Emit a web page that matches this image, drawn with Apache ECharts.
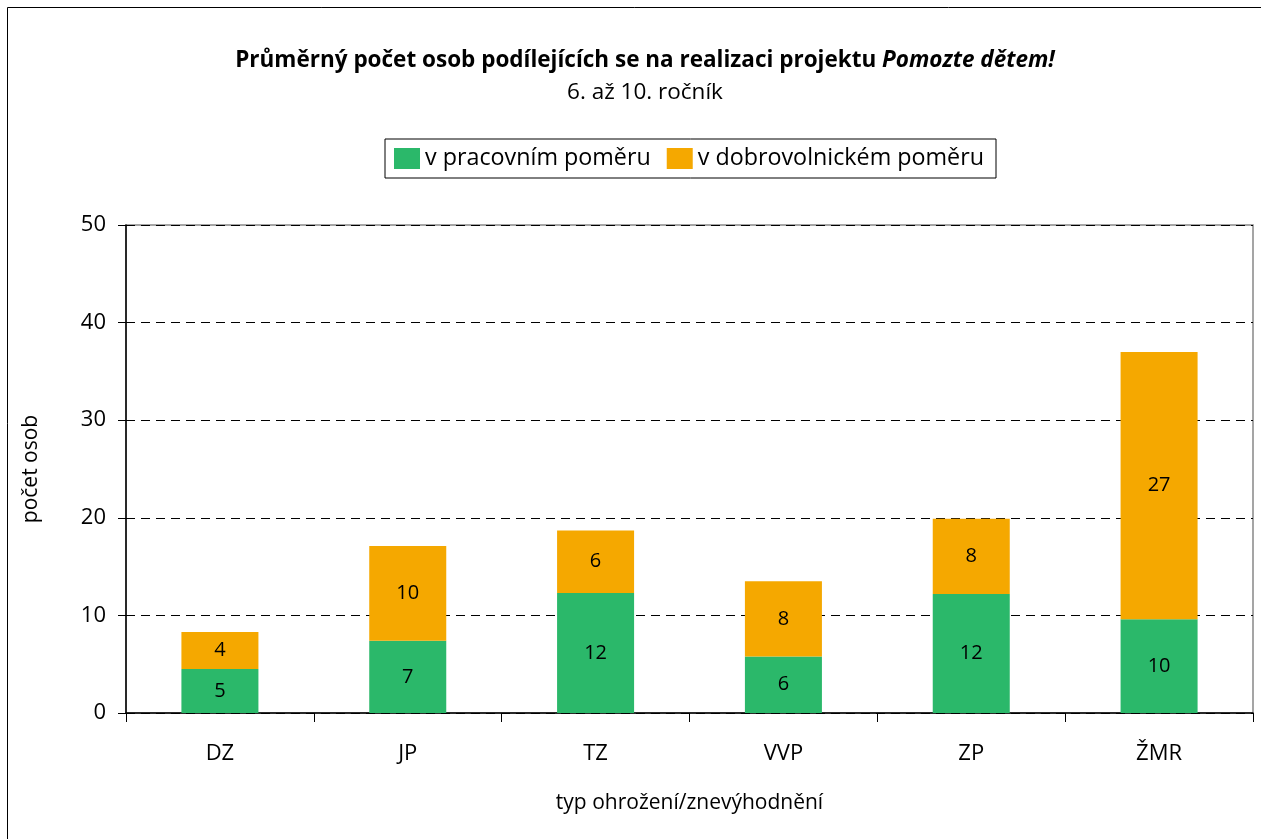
<!DOCTYPE html>
<html>
<head>
<meta charset="utf-8">
<script src="https://cdn.jsdelivr.net/npm/echarts@6/dist/echarts.min.js"></script>
<style>
  html, body { margin: 0; padding: 0; background: #fff; }
  #main { width: 1261px; height: 839px; }
</style>
</head>
<body>
<div id="main"></div>
<script>
var categories = ['DZ', 'JP', 'TZ', 'VVP', 'ZP', 'ŽMR'];
var pracovni = [4.5, 7.4, 12.3, 5.8, 12.2, 9.6];
var dobrovolnicke = [3.8, 9.7, 6.4, 7.7, 7.7, 27.4];
var yTicks = [0, 10, 20, 30, 40, 50];

var font = '"Open Sans", "Noto Sans", sans-serif';
var chart = echarts.init(document.getElementById('main'));

var labelStyle = {
  show: true,
  position: 'inside',
  color: '#000',
  fontFamily: font,
  fontSize: 20,
  formatter: function (p) { return Math.round(p.value); }
};

var option = {
  backgroundColor: '#fff',
  textStyle: { fontFamily: font },
  graphic: [{
    type: 'rect',
    shape: { x: 7.5, y: 7.5, width: 1300, height: 900 },
    style: { fill: 'none', stroke: '#000', lineWidth: 1 },
    silent: true
  }, {
    type: 'rect',
    shape: { x: 126, y: 225, width: 1127, height: 488 },
    style: { fill: 'none', stroke: '#888', lineWidth: 1.5 },
    silent: true,
    z: -1
  }],
  title: {
    text: 'Průměrný počet osob podílejících se na realizaci projektu {i|Pomozte dětem!}',
    subtext: '6. až 10. ročník',
    left: 640,
    textAlign: 'center',
    top: 44,
    itemGap: 9,
    textStyle: {
      fontFamily: font, fontSize: 22.5, fontWeight: 'bold', color: '#000',
      rich: { i: { fontFamily: font, fontSize: 22.5, fontWeight: 'bold', fontStyle: 'italic', color: '#000' } }
    },
    subtextStyle: { fontFamily: font, fontSize: 22.5, color: '#000' }
  },
  legend: {
    data: ['v pracovním poměru', 'v dobrovolnickém poměru'],
    left: 385,
    top: 139,
    padding: [8, 12, 8, 9],
    borderColor: '#000',
    borderWidth: 1,
    borderRadius: 0,
    itemWidth: 26,
    itemHeight: 21,
    itemGap: 16,
    icon: 'rect',
    textStyle: { fontFamily: font, fontSize: 23.3, color: '#000' }
  },
  grid: { left: 126, right: 8, top: 225, bottom: 126 },
  xAxis: {
    type: 'category',
    data: categories,
    name: 'typ ohrožení/znevýhodnění',
    nameLocation: 'middle',
    nameGap: 80,
    nameTextStyle: { fontFamily: font, fontSize: 21, color: '#000' },
    axisLine: { lineStyle: { color: '#000', width: 1.5 } },
    axisTick: { show: true, length: 9, lineStyle: { color: '#000' } },
    axisLabel: { fontFamily: font, fontSize: 22, color: '#000', margin: 30 }
  },
  yAxis: {
    type: 'value',
    min: 0,
    max: 50,
    interval: 10,
    name: 'počet osob',
    nameLocation: 'middle',
    nameGap: 84,
    nameRotate: 90,
    nameTextStyle: { fontFamily: font, fontSize: 21, color: '#000' },
    axisLine: { show: true, lineStyle: { color: '#000', width: 1.5 } },
    axisTick: { show: true, length: 8, lineStyle: { color: '#000' } },
    axisLabel: {
      fontFamily: font, fontSize: 22, color: '#000', margin: 20,
      formatter: function (v) { return yTicks.indexOf(v) >= 0 ? String(v) : ''; }
    },
    splitLine: { show: true, lineStyle: { color: '#000', type: [9, 6], width: 1 } }
  },
  series: [{
    name: 'v pracovním poměru',
    type: 'bar',
    stack: 'total',
    data: pracovni,
    barWidth: '41%',
    itemStyle: { color: '#2BB86A' },
    label: labelStyle
  }, {
    name: 'v dobrovolnickém poměru',
    type: 'bar',
    stack: 'total',
    data: dobrovolnicke,
    barWidth: '41%',
    itemStyle: { color: '#F5A800' },
    label: labelStyle
  }]
};
chart.setOption(option);
</script>
</body>
</html>
